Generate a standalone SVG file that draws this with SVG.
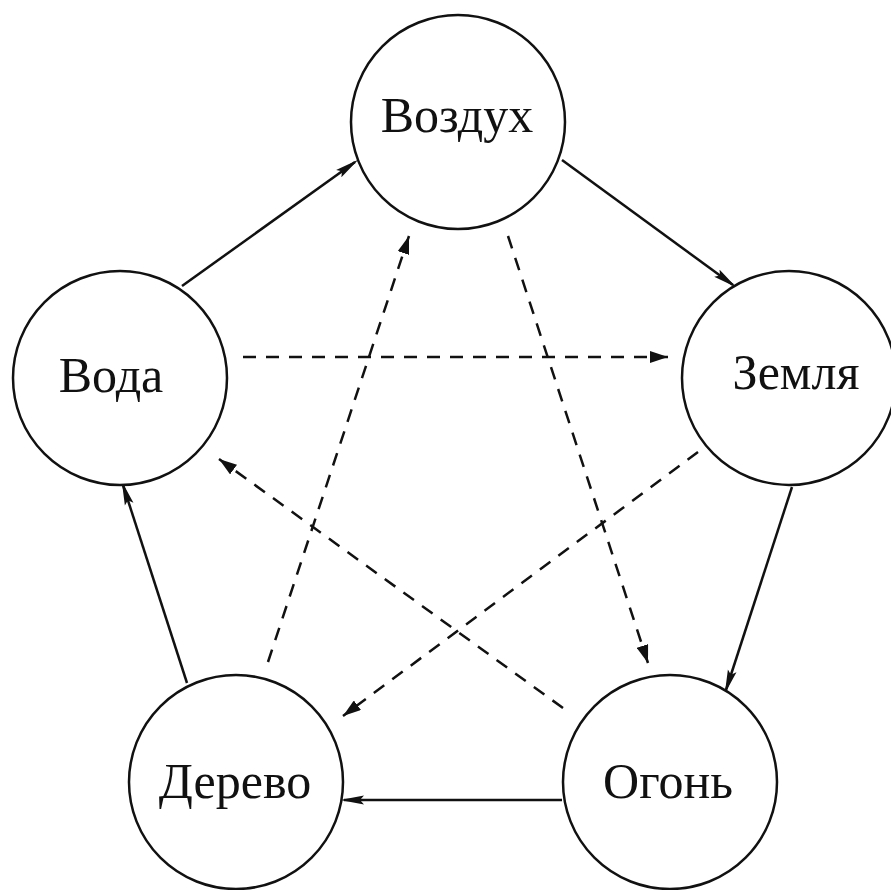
<svg xmlns="http://www.w3.org/2000/svg" width="891" height="890" viewBox="0 0 891 890">
<style>
.node circle{fill:#fff;stroke:#111;stroke-width:2.5}
.node text{font-family:"Liberation Serif","Times New Roman",serif;font-size:50px;fill:#111;text-anchor:middle}
.solid{stroke:#111;stroke-width:2.5;fill:none;marker-end:url(#ah)}
.dash{stroke:#111;stroke-width:2.5;fill:none;stroke-dasharray:13 10;marker-end:url(#ad)}
</style>
<defs>
<marker id="ah" viewBox="0 0 24 10" refX="20" refY="5" markerWidth="24" markerHeight="10" markerUnits="userSpaceOnUse" orient="auto">
<path d="M0,0.5 L24,5 L0,9.5 L4,5 z" fill="#111"/>
</marker>
<marker id="ad" viewBox="0 0 18 12" refX="18" refY="6" markerWidth="18" markerHeight="12" markerUnits="userSpaceOnUse" orient="auto">
<path d="M0,0 L18,6 L0,12 z" fill="#111"/>
</marker>
</defs>
<rect width="891" height="890" fill="#fff"/>
<g id="connectors">
<line class="solid" x1="182" y1="286" x2="355" y2="162"/>
<line class="solid" x1="562" y1="160" x2="733" y2="285"/>
<line class="solid" x1="792" y1="487" x2="726" y2="690"/>
<line class="solid" x1="562" y1="800" x2="344" y2="800"/>
<line class="solid" x1="187" y1="683" x2="123" y2="485"/>
<line class="dash" x1="243" y1="357" x2="668" y2="357"/>
<line class="dash" x1="508" y1="236" x2="648" y2="663"/>
<line class="dash" x1="698" y1="452" x2="343" y2="716"/>
<line class="dash" x1="563" y1="708" x2="219" y2="459"/>
<line class="dash" x1="268" y1="662" x2="409" y2="236"/>
</g>
<g id="vozdukh" class="node"><circle cx="458" cy="122" r="107"/><text x="457" y="132">Воздух</text></g>
<g id="voda" class="node"><circle cx="120" cy="378" r="107"/><text x="111" y="392">Вода</text></g>
<g id="zemlya" class="node"><circle cx="789" cy="378" r="107"/><text x="796" y="389">Земля</text></g>
<g id="derevo" class="node"><circle cx="236" cy="782" r="107"/><text x="235" y="798">Дерево</text></g>
<g id="ogon" class="node"><circle cx="670" cy="782" r="107"/><text x="668" y="798">Огонь</text></g>
</svg>
